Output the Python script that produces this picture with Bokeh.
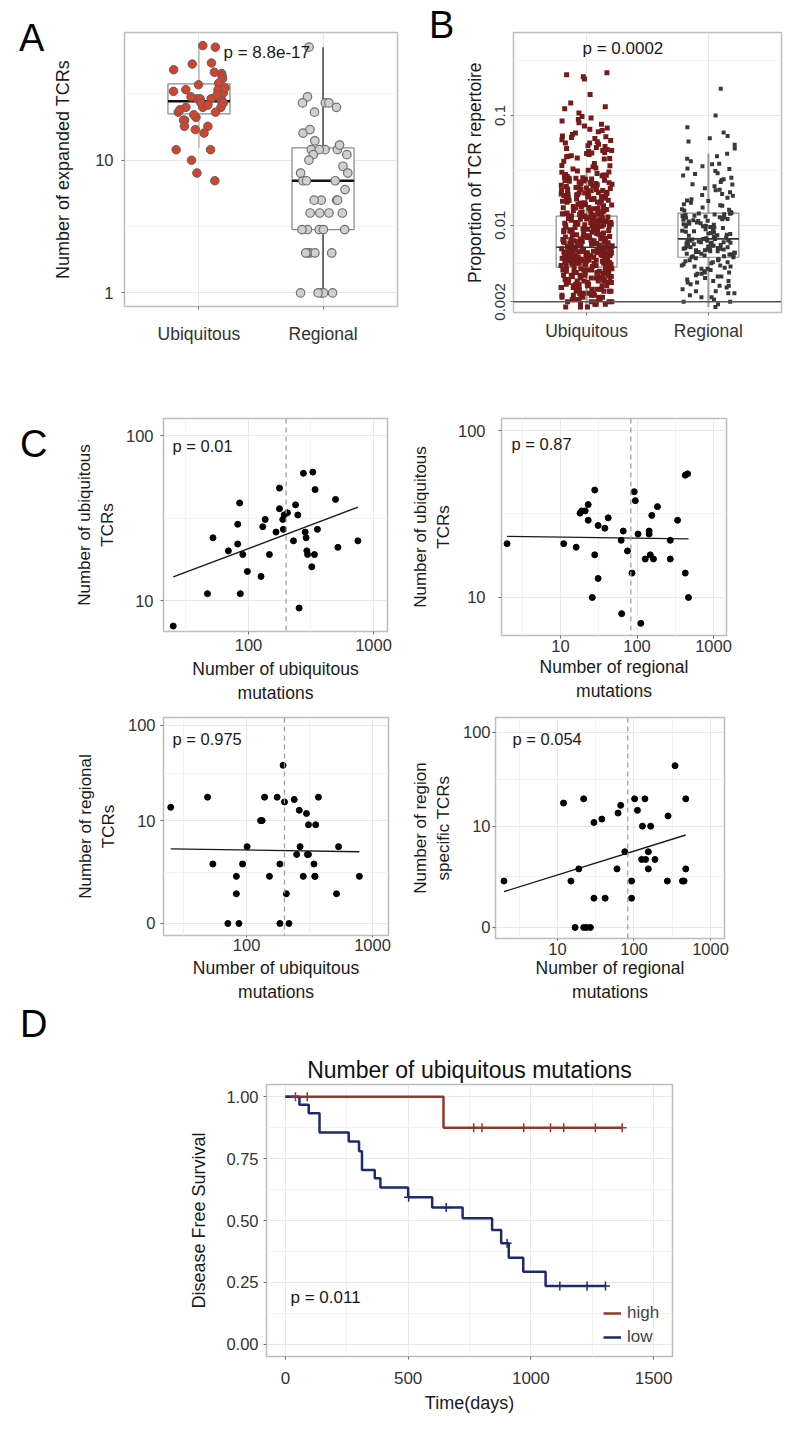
import numpy as np
from bokeh.plotting import figure
from bokeh.models import (FixedTicker, CustomJSTickFormatter, Label, Span, Legend,
                          LegendItem, Range1d, ColumnDataSource, Div)
from bokeh.layouts import column, row
from bokeh.transform import jitter
from bokeh.embed import file_html
from bokeh.resources import INLINE

FONT = "Liberation Sans"

# ---------------------------------------------------------------- data
categories = ["Ubiquitous", "Regional"]
panel_letters = ["A", "B", "C", "D"]

# Panel A : number of expanded TCRs per patient
a_ubiquitous = [71, 73, 54, 53, 46, 45, 48, 43, 41, 38, 37, 34, 33, 32, 34, 29, 29, 29, 28, 28,
                25, 25, 25, 23, 24, 23, 21, 20, 20, 18, 17, 16, 18, 12, 12, 10, 8, 7, 30, 27,
                27, 26, 35, 31, 22]
a_regional = [71, 30, 27, 27, 27, 25, 23, 16, 17, 14, 12, 12, 12, 12, 13, 11, 11, 10, 9, 8,
              7, 7, 7, 8, 6, 5, 5, 5, 5, 4, 4, 4, 4, 3, 3, 3, 3, 3, 2, 2, 2, 2, 2, 1, 1, 1, 1, 1]
a_q1 = [22.3, 3.0]
a_median = [27.8, 7.0]
a_q3 = [37.6, 12.4]
a_whisk_lo = [12.4, 1.0]
a_whisk_hi = [73.0, 71.0]
a_p = "p = 8.8e-17"
a_ticks = [1, 10, 100]

# Panel B : proportion of TCR repertoire (values in units of 1e-4)
b_ubiquitous_e4 = [
    18, 18, 19, 19, 19, 20, 20, 20, 21, 21, 21, 22, 22, 22, 23, 23, 23, 24, 24, 24, 25, 25, 25, 26,
    26, 26, 27, 27, 27, 28, 28, 28, 29, 29, 29, 30, 30, 30, 31, 31, 31, 32, 32, 32, 33, 33, 33, 34,
    34, 34, 35, 35, 35, 36, 36, 36, 37, 37, 37, 38, 38, 38, 39, 39, 39, 40, 40, 40, 41, 41,
    18, 19, 20, 21, 22, 23, 24, 25, 26, 27, 28, 29, 30, 31, 32, 33, 34, 35, 36, 37, 38, 39, 40, 41,
    20, 23, 26, 29, 32, 35,
    42, 42, 43, 43, 44, 44, 45, 45, 46, 46, 47, 47, 48, 48, 49, 49, 50, 50, 51, 51, 52, 52, 53, 53,
    54, 54, 55, 55, 56, 56, 57, 57, 58, 58, 59, 59, 60, 60, 61, 61, 62, 62, 63, 63,
    42, 43, 44, 45, 46, 47, 48, 49, 50, 51, 52, 53, 54, 55, 56, 57, 58, 59, 60, 61, 62, 63,
    41, 43, 45, 47, 49, 51, 53, 55, 57, 59, 61, 63, 42, 44, 46, 48, 50, 52, 54, 56, 58, 60, 62,
    44, 47, 50, 53, 56, 59, 62, 45, 48, 51, 54, 57, 60,
    64, 65, 66, 67, 68, 69, 70, 71, 72, 73, 74, 75, 76, 77, 78, 79, 80, 82, 84, 86, 88, 90, 92, 94,
    96, 98, 100, 102, 104, 106, 108, 110, 112, 114, 116, 118, 120,
    65, 67, 69, 71, 73, 75, 77, 79, 81, 83, 85, 87, 89, 91, 93, 95, 97, 99, 101, 103, 105, 107, 109,
    111, 113, 115, 117, 119, 121,
    66, 70, 74, 78, 82, 86, 90, 94, 98, 102, 106, 110, 114, 118,
    68, 72, 76, 81, 85, 89, 93, 97, 101, 105, 109, 113, 117, 64, 71, 79, 88, 96, 104, 112,
    122, 124, 126, 128, 130, 133, 136, 139, 142, 145, 148, 151, 155, 159, 163, 167, 171, 176, 181,
    186, 191, 197, 203, 209, 216, 223, 231, 239, 248, 257, 267, 278, 290, 303, 317, 332, 348, 365,
    383, 400,
    125, 131, 137, 144, 150, 157, 165, 173, 182, 192, 202, 213, 225, 238, 252, 268, 285, 305, 325, 350,
    127, 135, 143, 153, 162, 172, 184, 196, 210, 226, 244, 262, 282, 140, 170, 200, 240,
    123, 129, 134, 141, 147, 154, 160, 168, 175, 183, 190, 199, 207, 218, 228, 236, 246, 255, 264, 274,
    121, 132, 146, 158, 169, 178, 188, 194, 206, 214, 221, 233, 243, 251, 260, 271, 287, 296, 312, 340,
    405, 410, 420, 425, 430, 440, 450, 455, 460, 470, 480, 490, 500, 510, 520, 530, 545, 560, 575, 590,
    600, 615, 630, 650, 670, 690, 710, 730, 750, 770, 800, 830, 860, 890, 920, 950, 980, 640, 560, 480,
    1050, 1150, 1200, 1300, 1550, 2150, 2250, 2350, 2450]
b_regional_e4 = [
    18, 19, 20, 21, 22, 23, 24, 25, 26, 27, 28, 29, 30, 31, 32, 33, 34, 35, 36, 37, 38, 39, 40, 41,
    42, 43, 44, 45, 46, 47, 48, 49, 50, 51, 20, 22, 25, 28, 31, 34, 37, 40, 43, 46, 49, 24, 30, 36, 42, 48,
    52, 53, 54, 55, 56, 57, 58, 59, 60, 61, 62, 63, 64, 65, 66, 67, 68, 69, 70, 71, 72, 73, 74, 75,
    51, 53, 55, 57, 59, 61, 63, 65, 67, 69, 71, 73, 75, 52, 56, 60, 64, 68, 72, 54, 58, 62, 66, 70, 74, 60,
    76, 78, 80, 82, 84, 86, 88, 90, 92, 94, 96, 98, 100, 102, 104, 106, 108, 110, 112, 114, 116, 118,
    120, 122, 124, 126, 128, 77, 81, 85, 89, 93, 97, 101, 105, 109, 113, 117, 121, 125, 129,
    79, 87, 95, 103, 111, 119, 127, 83, 99,
    132, 136, 140, 145, 150, 155, 160, 166, 172, 178, 185, 192, 200, 208, 217, 226, 236, 247, 258, 270,
    283, 297, 312, 328, 345, 363, 382, 402, 424, 448, 138, 152, 168, 188, 210, 235, 262, 292, 325, 360,
    500, 540, 580, 620, 650, 700, 780, 1000, 1750]
b_q1 = [0.00415, 0.0051]
b_median = [0.0063, 0.0075]
b_q3 = [0.0121, 0.0129]
b_whisk_lo = [0.0018, 0.0018]
b_whisk_hi = [0.030, 0.045]
b_threshold = 0.002
b_p = "p = 0.0002"
b_ticks = [0.002, 0.01, 0.1]

# Panel C : mutations vs TCRs
c1_x = [25, 47, 52, 69, 82, 82, 85, 86, 90, 98, 126, 130, 136, 147, 166, 177, 177, 188, 193, 205,
        190, 229, 238, 248, 254, 275, 284, 289, 293, 297, 321, 327, 337, 341, 356, 497, 519, 750]
c1_y = [7, 11, 24, 20, 22, 29, 39, 11, 19, 15, 14, 28, 31, 19, 26, 48, 36, 31, 33, 34,
        27, 23, 38, 33, 9, 59, 26, 24, 20, 19, 16, 60, 19, 47, 27, 41, 21, 23]
c2_x = [2, 11, 16, 18, 19, 21, 23, 23, 28, 28, 31, 31, 26, 38, 42, 63, 66, 62, 75, 86,
        92, 95, 103, 112, 144, 144, 149, 128, 164, 156, 185, 272, 272, 339, 427, 458, 427, 471]
c2_y = [21, 21, 20, 32, 33, 33, 36, 29, 44, 18, 27, 13, 10, 26, 30, 8, 25, 22, 19, 14,
        43, 38, 24, 7, 25, 24, 18, 17, 17, 31, 35, 22, 17, 29, 54, 55, 14, 10]
c3_x = [25, 49, 54, 71, 83, 83, 87, 93, 101, 129, 133, 139, 152, 175, 184, 184, 195, 200, 207, 217,
        239, 250, 262, 266, 282, 299, 304, 310, 310, 343, 348, 350, 354, 372, 518, 538, 787]
c3_y = [14, 18, 3, 0, 2, 1, 0, 3, 5, 10, 10, 18, 2, 18, 3, 0, 39, 16, 1, 0,
        17, 4, 13, 5, 2, 12, 4, 9, 4, 3, 2, 2, 9, 18, 1, 5, 2]
c4_x = [2, 12, 15, 19, 22, 17, 22, 24, 27, 30, 30, 38, 42, 60, 62, 67, 76, 93, 93, 102,
        111, 129, 139, 126, 142, 154, 154, 165, 188, 273, 279, 344, 430, 452, 475, 475]
c4_y = [2, 18, 2, 3, 20, 0, 0, 0, 0, 1, 11, 12, 1, 3, 14, 17, 5, 2, 1, 20,
        15, 10, 20, 4, 4, 5, 3, 10, 4, 2, 13, 45, 2, 2, 20, 3]
median_ubiq_mut = 200
median_reg_mut = 83
c_p = ["p     = 0.01", "p     = 0.87", "p     = 0.975", "p     = 0.054"]

# Panel D : Kaplan-Meier
d_high_t = [0, 644, 1373]
d_high_s = [1.0, 0.875, 0.875]
d_high_cens_t = [41, 89, 767, 801, 971, 1080, 1134, 1263, 1372]
d_high_cens_s = [1.0, 1.0, 0.875, 0.875, 0.875, 0.875, 0.875, 0.875, 0.875]
d_low_t = [0, 57, 95, 139, 258, 300, 312, 364, 387, 500, 598, 722, 842, 879, 910, 969, 1060, 1304]
d_low_s = [1.0, 0.968, 0.934, 0.856, 0.819, 0.78, 0.704, 0.671, 0.633, 0.594, 0.553, 0.509,
           0.462, 0.408, 0.349, 0.293, 0.235, 0.235]
d_low_cens_t = [502, 655, 903, 1118, 1229, 1304]
d_low_cens_s = [0.594, 0.553, 0.408, 0.235, 0.235, 0.235]
d_groups = ["high", "low"]
d_p = "p = 0.011"
d_title = "Number of ubiquitous mutations"

# ---------------------------------------------------------------- helpers
def base_fig(fw, fh, mbl, mbr, mbt, mbb, xr, yr, xt="linear", yt="linear"):
    p = figure(frame_width=fw, frame_height=fh,
               min_border_left=mbl, min_border_right=mbr,
               min_border_top=mbt, min_border_bottom=mbb,
               x_range=Range1d(*xr), y_range=Range1d(*yr),
               x_axis_type=xt, y_axis_type=yt,
               output_backend="svg", toolbar_location=None)
    p.outline_line_color = "#BDBDBD"
    p.outline_line_width = 1.5
    p.border_fill_color = "white"
    p.background_fill_color = "white"
    for ax in p.axis:
        ax.axis_line_color = None
        ax.major_tick_in = 0
        ax.major_tick_out = 3
        ax.minor_tick_in = 0
        ax.minor_tick_out = 0
        ax.major_tick_line_color = "#6E6E6E"
        ax.major_label_text_font = FONT
        ax.major_label_text_color = "#333333"
        ax.axis_label_text_font = FONT
        ax.axis_label_text_font_style = "normal"
        ax.axis_label_text_color = "#1A1A1A"
    p.grid.grid_line_color = "#E8E8E8"
    p.grid.minor_grid_line_color = "#F3F3F3"
    return p


def set_axis(p, dim, ticks, minor, code, tick_fs, label, label_fs, standoff, lab_standoff,
             tick_out=3, args=None):
    ax = p.xaxis[0] if dim == "x" else p.yaxis[0]
    grid = p.xgrid[0] if dim == "x" else p.ygrid[0]
    tk = FixedTicker(ticks=ticks, minor_ticks=minor)
    ax.ticker = tk
    grid.ticker = tk
    ax.formatter = CustomJSTickFormatter(code=code, args=args or {})
    ax.major_label_text_font_size = tick_fs
    ax.axis_label = label
    ax.axis_label_text_font_size = label_fs
    ax.major_label_standoff = standoff
    ax.axis_label_standoff = lab_standoff
    ax.major_tick_out = tick_out


def add_label(p, x, y, text, size, align="left", color="#1A1A1A"):
    p.add_layout(Label(x=x, y=y, x_units="screen", y_units="screen", text=text,
                       text_font=FONT, text_font_size=size, text_align=align,
                       text_baseline="middle", text_color=color))


def letter_div(letter, w, h, left, top):
    html = ('<div style="margin-left:%dpx;margin-top:%dpx;font-family:\'Liberation Sans\';'
            'font-size:38px;line-height:38px;color:#000;">%s</div>' % (left, top, letter))
    return Div(text=html, width=w, height=h, margin=(0, 0, 0, 0))


CAT_CODE = "return cats[Math.round(tick) - 1];"

# ---------------------------------------------------------------- Panel A
pa = base_fig(273, 274, 76, 11, 32, 54, (0.4, 2.6), (0.79, 91.6), yt="log")
set_axis(pa, "x", [1, 2], [], CAT_CODE, "17.5px", "", "17px", 14, 0, args=dict(cats=categories))
set_axis(pa, "y", a_ticks, [3.1623, 31.623], "return tick.toString();", "16.5px",
         "Number of expanded TCRs", "18px", 8, 19)
box_a = ColumnDataSource(dict(x=[1, 2], lo=a_whisk_lo, hi=a_whisk_hi,
                              wc=["#A6A6A6", "#4D4D4D"], ww=[1.2, 1.6]))
pa.segment(x0="x", y0="lo", x1="x", y1="hi", source=box_a, line_color="wc", line_width="ww")
pa.quad(left=[0.75, 1.75], right=[1.25, 2.25], bottom=a_q1, top=a_q3,
        fill_color="white", line_color="#8C8C8C", line_width=1.3)
pa.segment(x0=[0.75, 1.75], y0=a_median, x1=[1.25, 2.25], y1=a_median, line_color="#111111", line_width=2.5)
src_au = ColumnDataSource(dict(x=[1] * len(a_ubiquitous), y=a_ubiquitous))
src_ar = ColumnDataSource(dict(x=[2] * len(a_regional), y=a_regional))
pa.scatter(x=jitter("x", width=0.42), y="y", source=src_au, size=8.5,
           fill_color="#D6432C", line_color="#5E5E5E", line_width=1)
pa.scatter(x=jitter("x", width=0.42), y="y", source=src_ar, size=8.5,
           fill_color="#CFCFCF", line_color="#707070", line_width=1.2)
add_label(pa, 99, 254, a_p, "17px")

# ---------------------------------------------------------------- Panel B
pb = base_fig(268, 280, 61, 11, 32, 48, (0.4, 2.6), (0.0016, 0.57), yt="log")
set_axis(pb, "x", [1, 2], [], CAT_CODE, "17.5px", "", "17px", 5, 0, args=dict(cats=categories))
set_axis(pb, "y", b_ticks, [0.00447, 0.0316, 0.316], "return tick.toString();", "15px",
         "Proportion of TCR repertoire", "17.5px", 5, 8)
pb.yaxis[0].major_label_orientation = "vertical"
box_b = ColumnDataSource(dict(x=[1, 2], lo=b_whisk_lo, hi=b_whisk_hi))
pb.segment(x0="x", y0="lo", x1="x", y1="hi", source=box_b, line_color="#9A9A9A", line_width=2)
pb.quad(left=[0.75, 1.75], right=[1.25, 2.25], bottom=b_q1, top=b_q3,
        fill_color="white", line_color="#8C8C8C", line_width=1.2)
pb.add_layout(Span(location=b_threshold, dimension="width", line_color="#555555", line_width=1.5))
ub = np.array(b_ubiquitous_e4) / 1e4
rg = np.array(b_regional_e4) / 1e4
pb.scatter(x=jitter("x", width=0.42), y="y",
           source=ColumnDataSource(dict(x=[1] * len(ub), y=ub)),
           marker="square", size=5, fill_color="#761A1A", line_color=None)
pb.scatter(x=jitter("x", width=0.44), y="y",
           source=ColumnDataSource(dict(x=[2] * len(rg), y=rg)),
           marker="square", size=4, fill_color="#383838", line_color=None)
pb.segment(x0=[0.75, 1.75], y0=b_median, x1=[1.25, 2.25], y1=b_median, line_color="#333333", line_width=1.6)
add_label(pb, 69, 264, b_p, "17px")

# ---------------------------------------------------------------- Panel C
def c_panel(x, y, frame, borders, xr, yr, plus_one, xticks, xminor, ytick_vals, yminor, xlabel, ylabel,
            median, ptext, ppos, xs_off, xl_off, ys_off, yl_off, xtick_out=3):
    fw, fh = frame
    mbl, mbr, mbt, mbb = borders
    p = base_fig(fw, fh, mbl, mbr, mbt, mbb, xr, yr, xt="log", yt="log")
    set_axis(p, "x", xticks, xminor, "return tick.toString();", "16.5px", xlabel, "17.5px",
             xs_off, xl_off, tick_out=xtick_out)
    if plus_one:
        set_axis(p, "y", [v + 1 for v in ytick_vals], yminor, "return (tick - 1).toString();", "16.5px",
                 ylabel, "17px", ys_off, yl_off)
    else:
        set_axis(p, "y", ytick_vals, yminor, "return tick.toString();", "16.5px",
                 ylabel, "17px", ys_off, yl_off)
    xa = np.array(x, dtype=float)
    ya = np.array(y, dtype=float) + (1 if plus_one else 0)
    p.add_layout(Span(location=median, dimension="height", line_color="#A0A0A0",
                      line_width=1.3, line_dash="5 4"))
    k, b0 = np.polyfit(np.log10(xa), np.log10(ya), 1)
    xs = np.array([xa.min(), xa.max()])
    p.line(xs, 10 ** (k * np.log10(xs) + b0), line_color="#1A1A1A", line_width=1.4)
    p.scatter(xa, ya, size=6, fill_color="black", line_color="black")
    add_label(p, ppos[0], ppos[1], ptext, "16.5px")
    return p


pc1 = c_panel(c1_x, c1_y, (224, 213), (115, 21, 55, 77), (20.9, 1294), (6.49, 126.8), False,
              [10, 100, 1000], [31.62, 316.2], [10, 100], [31.62],
              "Number of ubiquitous\nmutations", "Number of ubiquitous\nTCRs",
              median_ubiq_mut, c_p[0], (9, 186), 4, 5, 7, 6)
pc2 = c_panel(c2_x, c2_y, (225, 217), (90, 69, 58, 70), (1.69, 1479), (5.92, 118), False,
              [10, 100, 1000], [3.162, 31.62, 316.2], [10, 100], [31.62],
              "Number of regional\nmutations", "Number of ubiquitous\nTCRs",
              median_reg_mut, c_p[1], (10, 192), 1, 2, 13, 2)
pc3 = c_panel(c3_x, c3_y, (225, 218), (163, 20, 12, 70), (21.9, 1340), (0.756, 121.7), True,
              [10, 100, 1000], [31.62, 316.2], [0, 10, 100], [3.32, 33.3],
              "Number of ubiquitous\nmutations", "Number of regional\nTCRs",
              median_ubiq_mut, c_p[2], (9, 197), 1, 4, 5, 7, xtick_out=2)
pc4 = c_panel(c4_x, c4_y, (229, 221), (85, 70, 12, 67), (1.55, 1524), (0.77, 144), True,
              [10, 100, 1000], [3.162, 31.62, 316.2], [0, 10, 100], [3.32, 33.3],
              "Number of regional\nmutations", "Number of region\nspecific TCRs",
              median_reg_mut, c_p[3], (17, 200), 2, 0, 2, 7, xtick_out=2)

# ---------------------------------------------------------------- Panel D
pd_ = base_fig(406, 272, 218, 120, 79, 66, (-77, 1577), (-0.05, 1.05))
set_axis(pd_, "x", [0, 500, 1000, 1500], [250, 750, 1250], "return tick.toFixed(0);", "17px",
         "Time(days)", "18px", 12, 6)
set_axis(pd_, "y", [0, 0.25, 0.5, 0.75, 1.0], [0.125, 0.375, 0.625, 0.875],
         "return tick.toFixed(2);", "16.5px", "Disease Free Survival", "18px", 5, 14)
pd_.title.text = d_title
pd_.title.align = "center"
pd_.title.text_font = FONT
pd_.title.text_font_size = "23px"
pd_.title.text_font_style = "normal"
pd_.title.text_color = "#111111"
pd_.title.standoff = 4
RED = "#8E3A2C"
BLUE = "#1F2A6E"
r_high = pd_.step(d_high_t, d_high_s, mode="after", line_color=RED, line_width=2.5)
r_low = pd_.step(d_low_t, d_low_s, mode="after", line_color=BLUE, line_width=2.5)
pd_.scatter(d_high_cens_t, d_high_cens_s, marker="cross", size=9, line_color=RED, line_width=1.5)
pd_.scatter(d_low_cens_t, d_low_cens_s, marker="cross", size=9, line_color=BLUE, line_width=1.5)
leg = Legend(items=[LegendItem(label=d_groups[0], renderers=[r_high]),
                    LegendItem(label=d_groups[1], renderers=[r_low])],
             location=(337, 9), border_line_color=None, background_fill_alpha=0,
             label_text_font=FONT, label_text_font_size="17px", glyph_width=18, glyph_height=18,
             label_height=18, spacing=4, padding=0, margin=0, label_standoff=6)
pd_.add_layout(leg)
add_label(pd_, 24, 59, d_p, "17px")

# ---------------------------------------------------------------- layout
div_a = letter_div(panel_letters[0], 48, 360, 19, 19)
div_b = letter_div(panel_letters[1], 44, 360, 21, 6)
div_c = letter_div(panel_letters[2], 48, 345, 20, 65)
div_d = letter_div(panel_letters[3], 48, 417, 20, 0)

layout = column(row(div_a, pa, div_b, pb),
                row(div_c, pc1, pc2),
                row(pc3, pc4),
                row(div_d, pd_))
open("out.html", "w").write(file_html(layout, INLINE))
